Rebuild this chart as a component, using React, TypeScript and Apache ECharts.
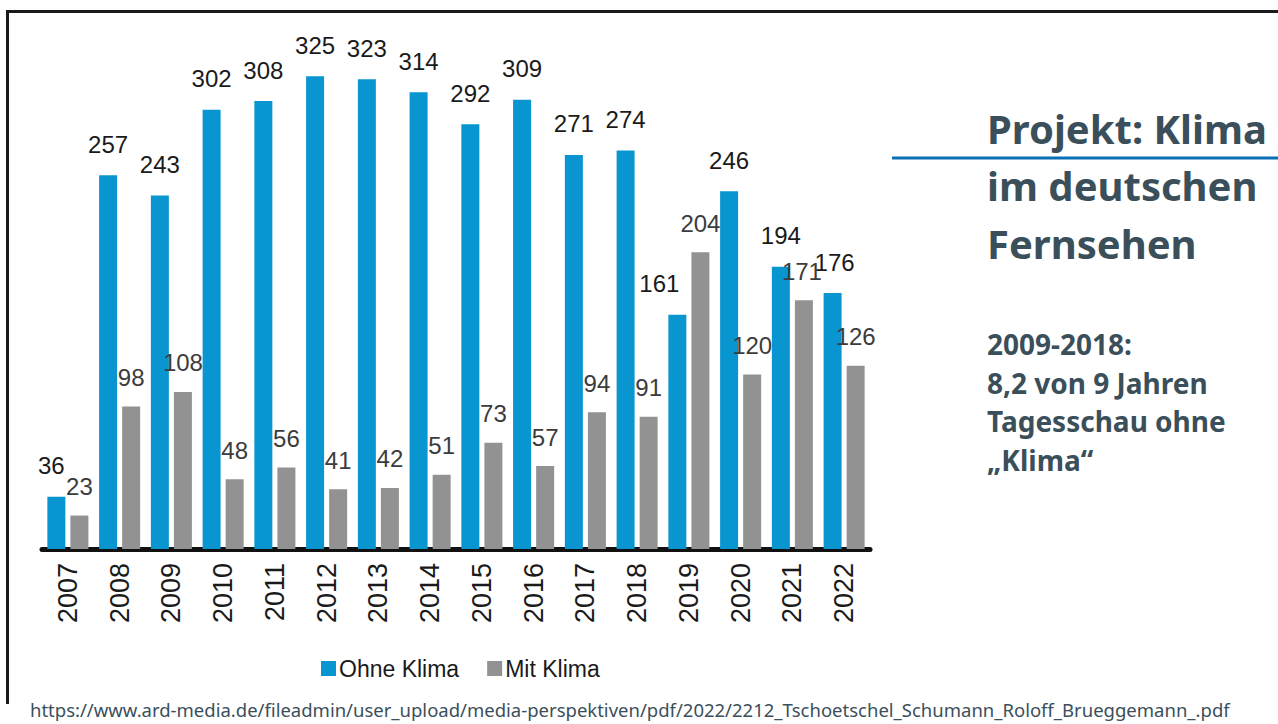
import React, { useEffect, useRef } from "react";
import * as echarts from "echarts";

const years = ["2007","2008","2009","2010","2011","2012","2013","2014","2015","2016","2017","2018","2019","2020","2021","2022"];
const ohneKlima = [36,257,243,302,308,325,323,314,292,309,271,274,161,246,194,176];
const mitKlima = [23,98,108,48,56,41,42,51,73,57,94,91,204,120,171,126];
const titleLines = ["Projekt: Klima", "im deutschen", "Fernsehen"];
const noteLines = ["2009-2018:", "8,2 von 9 Jahren", "Tagesschau ohne", "\u201EKlima\u201C"];
const sourceUrl = "https://www.ard-media.de/fileadmin/user_upload/media-perspektiven/pdf/2022/2212_Tschoetschel_Schumann_Roloff_Brueggemann_.pdf";

const NARROW = "'Liberation Sans Narrow', 'Liberation Sans', Arial, sans-serif";
const SANS = "'Noto Sans', 'Open Sans', sans-serif";
const BLUE = "#0996d0";
const GRAY = "#929292";
const SLATE = "#3b4f5b";

export default function App() {
  const ref = useRef<HTMLDivElement>(null);
  useEffect(() => {
    document.body.style.margin = "0";
    const chart = echarts.init(ref.current!, null, { renderer: "svg" });
    const ohneData = ohneKlima.map((v, i) => {
      if (i === 12) return { value: v, label: { offset: [-18, 0] } };
      if (i === 0) return { value: v, label: { offset: [-5, 0] } };
      if (i === 15) return { value: v, label: { offset: [2, 0] } };
      return v;
    });
    const mitData = mitKlima.map((v, i) => {
      if (i === 14) return { value: v, label: { offset: [-2, 0] } };
      return v;
    });
    const graphics: any[] = [
      { type: "line", shape: { x1: 7.5, y1: 11.5, x2: 1278, y2: 11.5 }, style: { stroke: "#1a1a1a", lineWidth: 3 } },
      { type: "line", shape: { x1: 7.5, y1: 10, x2: 7.5, y2: 704 }, style: { stroke: "#1a1a1a", lineWidth: 3 } },
      { type: "line", shape: { x1: 892, y1: 158, x2: 1278, y2: 158 }, style: { stroke: "#0a6fb5", lineWidth: 3 } },
    ];
    titleLines.forEach((t, i) => {
      graphics.push({
        type: "text", left: 987, top: 108 + i * 57.5,
        style: { text: t, font: `bold 40px ${SANS}`, fill: SLATE },
      });
    });
    noteLines.forEach((t, i) => {
      graphics.push({
        type: "text", left: 987, top: 330 + i * 38.7,
        style: { text: t, font: `bold 28px ${SANS}`, fill: SLATE },
      });
    });
    graphics.push({
      type: "text", left: 30, top: 700,
      style: { text: sourceUrl, font: `18.5px ${SANS}`, fill: SLATE },
    });

    chart.setOption({
      animation: false,
      backgroundColor: "#ffffff",
      grid: { left: 42, width: 828, top: 40, height: 509, containLabel: false },
      legend: {
        left: 316, top: 652,
        itemWidth: 15, itemHeight: 15, itemGap: 28,
        icon: "rect",
        textStyle: { fontFamily: NARROW, fontSize: 23, color: "#1a1a1a", padding: [0, 0, 0, -2] },
        data: ["Ohne Klima", "Mit Klima"],
      },
      xAxis: {
        type: "category",
        data: years,
        axisLine: { lineStyle: { color: "#111", width: 5 } },
        axisTick: { show: false },
        axisLabel: { rotate: 90, fontFamily: NARROW, fontSize: 27, color: "#1a1a1a", margin: 14 },
      },
      yAxis: { type: "value", min: 0, max: 350, show: false, splitLine: { show: false } },
      series: [
        {
          name: "Ohne Klima", type: "bar", data: ohneData,
          barWidth: 18, barGap: "28%",
          itemStyle: { color: BLUE },
          label: { show: true, position: "top", distance: 19, fontFamily: NARROW, fontSize: 24, color: "#1a1a1a" },
        },
        {
          name: "Mit Klima", type: "bar", data: mitData,
          barWidth: 18, barGap: "28%",
          itemStyle: { color: GRAY },
          label: { show: true, position: "top", distance: 17, fontFamily: NARROW, fontSize: 24, color: "#3c3c3c" },
        },
      ],
      graphic: graphics,
    });
    return () => chart.dispose();
  }, []);
  return <div ref={ref} style={{ width: 1278, height: 724 }} />;
}
